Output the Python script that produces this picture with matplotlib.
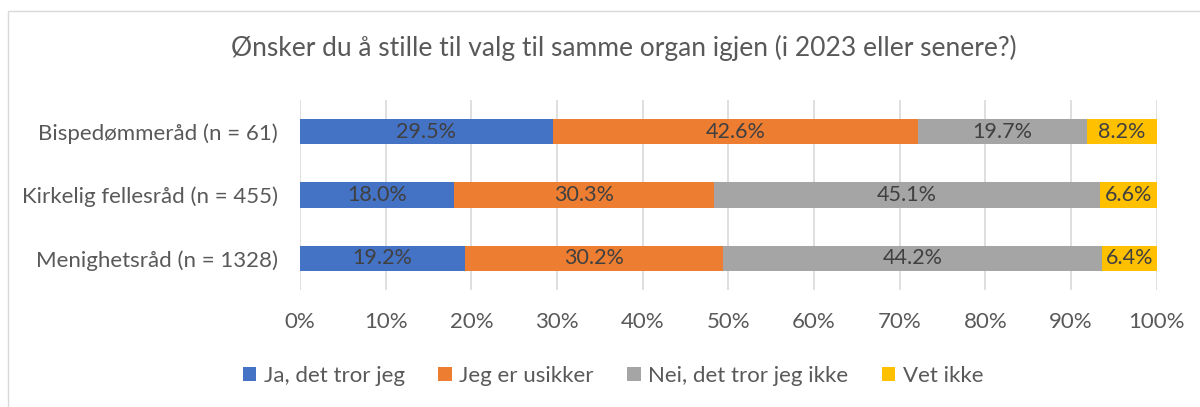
import matplotlib.pyplot as plt
from matplotlib.patches import Rectangle

plt.rcParams['font.family'] = ['Lato', 'DejaVu Sans']

categories = ['Menighetsråd (n = 1328)', 'Kirkelig fellesråd (n = 455)', 'Bispedømmeråd (n = 61)']
series = ['Ja, det tror jeg', 'Jeg er usikker', 'Nei, det tror jeg ikke', 'Vet ikke']
values = [
    [19.2, 18.0, 29.5],
    [30.2, 30.3, 42.6],
    [44.2, 45.1, 19.7],
    [6.4, 6.6, 8.2],
]
colors = ['#4472C4', '#ED7D31', '#A5A5A5', '#FFC000']
text_color = '#595959'

fig = plt.figure(figsize=(12, 4.07), dpi=100)
ax = fig.add_axes([0.25, 0.2875, 0.714, 0.4665])

# chart border
fig.patches.append(Rectangle((8 / 1200, -0.1), 1.2, 1 - 11 / 407 + 0.1, transform=fig.transFigure,
                             fill=False, edgecolor='#D9D9D9', linewidth=1))

y = range(len(categories))
left = [0.0] * len(categories)
for name, vals, c in zip(series, values, colors):
    bars = ax.barh(y, vals, left=left, height=0.4, color=c, label=name, zorder=3)
    ax.bar_label(bars, labels=[f'{v:.1f}%' for v in vals], label_type='center',
                 color='#404040', fontsize=15.5)
    left = [l + v for l, v in zip(left, vals)]

ax.set_xlim(0, 100)
ax.set_ylim(-0.5, 2.5)
ax.set_xticks(range(0, 101, 10))
ax.set_xticklabels([f'{t}%' for t in range(0, 101, 10)])
ax.set_yticks(list(y))
ax.set_yticklabels(categories)
ax.tick_params(length=0, colors=text_color, labelsize=16)
ax.tick_params(axis='x', pad=16)
ax.tick_params(axis='y', pad=16)
ax.xaxis.grid(True, color='#D9D9D9', linewidth=1.2, zorder=0)
for s in ax.spines.values():
    s.set_visible(False)

fig.text(0.52, 1 - 48 / 407, 'Ønsker du å stille til valg til samme organ igjen (i 2023 eller senere?)',
         ha='center', va='center', fontsize=19, color=text_color)

fig.legend(loc='center', bbox_to_anchor=(0.511, 1 - 376 / 407), ncol=4, frameon=False,
           fontsize=16, labelcolor=text_color, handlelength=0.6, handleheight=0.6,
           handletextpad=0.35, columnspacing=1.5)

fig.savefig('out.png', dpi=100)
